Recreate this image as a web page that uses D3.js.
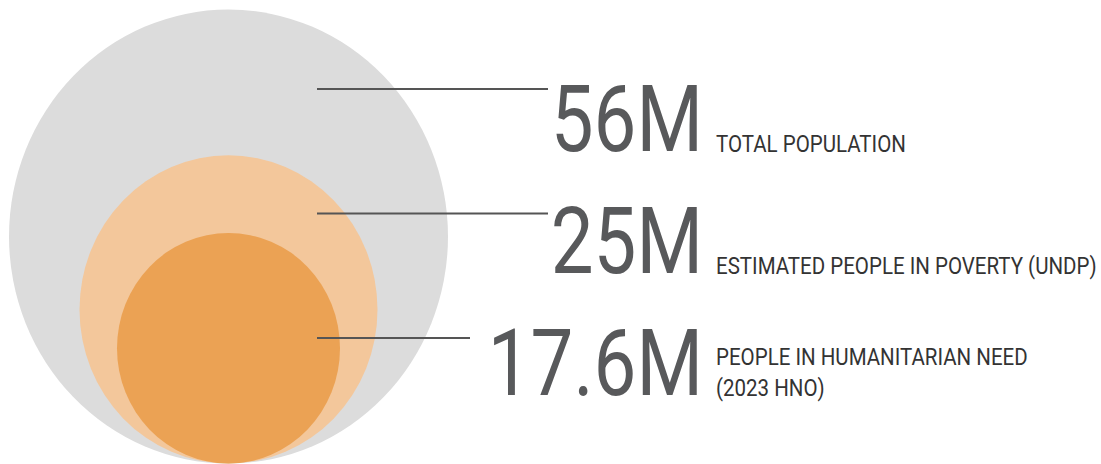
<!DOCTYPE html>
<html>
<head>
<meta charset="utf-8">
<script src="https://cdn.jsdelivr.net/npm/d3@7"></script>
<style>
  html, body { margin: 0; padding: 0; background: #ffffff; }
  svg { display: block; }
  text { font-family: Roboto, "Noto Sans", sans-serif; }
</style>
</head>
<body>
<svg id="chart" width="1101" height="464"></svg>
<script>
// ---- data ----
const categories = ["Total population", "People in poverty", "People in humanitarian need"];
const values = [56, 25, 17.6];
const valueLabels = ["56M", "25M", "17.6M"];
const descLines = [
  ["TOTAL POPULATION"],
  ["ESTIMATED PEOPLE IN POVERTY (UNDP)"],
  ["PEOPLE IN HUMANITARIAN NEED", "(2023 HNO)"]
];
const fills = ["#dcdcdc", "#f3c79b", "#eba254"];

// ---- layout ----
const W = 1101, H = 464;
const cx = 228.5, bottom = 463.5, yStretch = 1.034;
const svg = d3.select("#chart");

const r = d3.scaleLinear().domain([17.6, 25, 56]).range([111.5, 149, 219.5]);

svg.selectAll("ellipse.bubble")
  .data(values)
  .join("ellipse")
  .attr("class", "bubble")
  .attr("cx", cx)
  .attr("rx", d => r(d))
  .attr("ry", d => r(d) * yStretch)
  .attr("cy", d => bottom - r(d) * yStretch)
  .attr("fill", (d, i) => fills[i]);

const idx = d3.range(values.length);
const lineY = d3.scaleLinear().domain([0, 2]).range([89, 338]);
const baseY = d3.scaleLinear().domain([0, 2]).range([151, 395]);
const lineEnds = [548, 548, 470];

svg.selectAll("line.callout")
  .data(idx)
  .join("line")
  .attr("class", "callout")
  .attr("x1", 317)
  .attr("x2", i => lineEnds[i])
  .attr("y1", i => lineY(i))
  .attr("y2", i => lineY(i))
  .attr("stroke", "#555555")
  .attr("stroke-width", 2);

const numX = 703;
const numG = svg.selectAll("g.num")
  .data(idx)
  .join("g")
  .attr("class", "num")
  .attr("transform", i => `translate(${numX},${baseY(i)}) scale(0.82,1)`);
numG.append("text")
  .attr("text-anchor", "end")
  .attr("font-size", 93)
  .attr("fill", "#58595b")
  .text(i => valueLabels[i]);

const labX = 716;
const labG = svg.selectAll("g.lab")
  .data(idx)
  .join("g")
  .attr("class", "lab")
  .attr("transform", i => {
    const y = descLines[i].length > 1 ? baseY(i) - 30 : baseY(i) + 1;
    return `translate(${labX},${y}) scale(0.855,1)`;
  });
labG.append("text")
  .attr("font-size", 24)
  .attr("fill", "#333333")
  .selectAll("tspan")
  .data(i => descLines[i])
  .join("tspan")
  .attr("x", 0)
  .attr("dy", (d, j) => j === 0 ? 0 : 31)
  .text(d => d);
</script>
</body>
</html>
